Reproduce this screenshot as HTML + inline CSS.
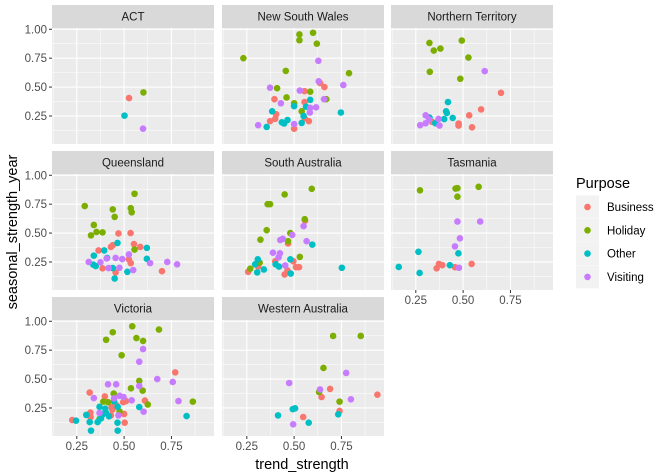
<!DOCTYPE html>
<html><head><meta charset="utf-8"><style>
body{margin:0;background:#fff;}
svg{display:block;font-family:"Liberation Sans",sans-serif;}
</style></head><body>
<svg id="chart" width="662" height="475" xmlns="http://www.w3.org/2000/svg"></svg>
<script>
const facets=["ACT","New South Wales","Northern Territory","Queensland","South Australia","Tasmania","Victoria","Western Australia"];
const purposes=["Business","Holiday","Other","Visiting"];
const colors=["#F8766D","#7CAE00","#00BFC4","#C77CFF"];
const xTicks=[0.25,0.5,0.75];
const xTickLabels=["0.25","0.50","0.75"];
const yTicks=[0.25,0.5,0.75,1.0];
const yTickLabels=["0.25","0.50","0.75","1.00"];
// [trend, seasonal] per facet per purpose
const actBusiness=[[0.526,0.405]];
const actHoliday=[[0.602,0.454]];
const actOther=[[0.502,0.253]];
const actVisiting=[[0.60,0.14]];
const nswBusiness=[[0.396,0.395],[0.405,0.265],[0.40,0.225],[0.373,0.205],[0.555,0.465],[0.637,0.535],[0.66,0.50],[0.555,0.37],[0.556,0.23],[0.578,0.205],[0.50,0.14]];
const nswHoliday=[[0.232,0.75],[0.528,0.955],[0.528,0.905],[0.60,0.97],[0.62,0.875],[0.456,0.64],[0.79,0.62],[0.41,0.49],[0.46,0.41],[0.50,0.36],[0.585,0.46],[0.67,0.395],[0.54,0.29]];
const nswOther=[[0.384,0.29],[0.585,0.39],[0.563,0.33],[0.50,0.335],[0.747,0.28],[0.55,0.25],[0.465,0.215],[0.435,0.195],[0.447,0.185],[0.54,0.19],[0.355,0.155]];
const nswVisiting=[[0.373,0.495],[0.628,0.727],[0.63,0.55],[0.53,0.47],[0.43,0.36],[0.658,0.395],[0.616,0.325],[0.585,0.32],[0.583,0.28],[0.76,0.518],[0.31,0.17],[0.50,0.18]];
const ntBusiness=[[0.70,0.45],[0.595,0.307],[0.532,0.256],[0.476,0.184],[0.476,0.167],[0.547,0.152],[0.336,0.20]];
const ntHoliday=[[0.322,0.882],[0.345,0.816],[0.38,0.833],[0.493,0.902],[0.528,0.755],[0.324,0.632],[0.485,0.572]];
const ntOther=[[0.42,0.37],[0.41,0.29],[0.414,0.276],[0.445,0.233],[0.40,0.223],[0.322,0.236],[0.353,0.188]];
const ntVisiting=[[0.614,0.638],[0.302,0.256],[0.37,0.224],[0.273,0.17],[0.302,0.187],[0.375,0.167],[0.32,0.22]];
const qldBusiness=[[0.365,0.35],[0.47,0.497],[0.534,0.50],[0.552,0.405],[0.585,0.38],[0.43,0.38],[0.44,0.395],[0.525,0.272],[0.535,0.24],[0.386,0.195],[0.455,0.16],[0.70,0.17]];
const qldHoliday=[[0.292,0.734],[0.34,0.57],[0.325,0.48],[0.354,0.51],[0.386,0.506],[0.44,0.705],[0.45,0.64],[0.535,0.715],[0.54,0.68],[0.555,0.84],[0.555,0.357]];
const qldOther=[[0.465,0.415],[0.34,0.305],[0.395,0.35],[0.62,0.372],[0.62,0.277],[0.337,0.227],[0.35,0.215],[0.44,0.197],[0.517,0.165],[0.45,0.107],[0.41,0.285]];
const qldVisiting=[[0.525,0.315],[0.313,0.25],[0.375,0.247],[0.408,0.28],[0.455,0.285],[0.49,0.275],[0.418,0.197],[0.475,0.2],[0.548,0.18],[0.637,0.24],[0.728,0.25],[0.78,0.23]];
const saBusiness=[[0.558,0.607],[0.468,0.41],[0.40,0.256],[0.465,0.177],[0.45,0.142],[0.496,0.256],[0.51,0.205],[0.526,0.205],[0.257,0.165],[0.31,0.21]];
const saHoliday=[[0.593,0.883],[0.45,0.834],[0.36,0.75],[0.373,0.75],[0.355,0.525],[0.322,0.443],[0.48,0.50],[0.468,0.43],[0.556,0.62],[0.53,0.294],[0.318,0.244],[0.268,0.192]];
const saOther=[[0.752,0.2],[0.596,0.40],[0.48,0.273],[0.308,0.273],[0.294,0.23],[0.34,0.185],[0.305,0.16],[0.402,0.23],[0.42,0.21],[0.482,0.15]];
const saVisiting=[[0.55,0.56],[0.566,0.43],[0.49,0.484],[0.44,0.45],[0.427,0.44],[0.425,0.325],[0.388,0.33],[0.418,0.29],[0.453,0.22]];
const tasBusiness=[[0.372,0.233],[0.39,0.222],[0.36,0.195],[0.457,0.205],[0.545,0.233]];
const tasHoliday=[[0.272,0.87],[0.46,0.885],[0.47,0.888],[0.582,0.90],[0.47,0.815]];
const tasOther=[[0.264,0.338],[0.475,0.325],[0.43,0.222],[0.16,0.207],[0.27,0.155]];
const tasVisiting=[[0.47,0.60],[0.59,0.60],[0.483,0.455],[0.457,0.385],[0.478,0.20]];
const vicBusiness=[[0.77,0.558],[0.61,0.314],[0.398,0.35],[0.318,0.383],[0.322,0.21],[0.323,0.172],[0.226,0.146],[0.50,0.198],[0.503,0.123],[0.51,0.31],[0.43,0.186],[0.434,0.258],[0.438,0.236],[0.46,0.273],[0.495,0.30]];
const vicHoliday=[[0.543,0.957],[0.44,0.905],[0.405,0.84],[0.565,0.855],[0.60,0.83],[0.684,0.928],[0.487,0.706],[0.58,0.484],[0.598,0.40],[0.536,0.42],[0.445,0.375],[0.863,0.305],[0.625,0.28],[0.39,0.305],[0.415,0.30],[0.37,0.155],[0.476,0.22]];
const vicOther=[[0.246,0.14],[0.30,0.19],[0.318,0.128],[0.325,0.054],[0.37,0.26],[0.378,0.16],[0.36,0.128],[0.40,0.244],[0.405,0.207],[0.387,0.195],[0.447,0.307],[0.466,0.26],[0.465,0.123],[0.466,0.054],[0.58,0.258],[0.83,0.18],[0.42,0.178]];
const vicVisiting=[[0.60,0.76],[0.58,0.65],[0.675,0.50],[0.757,0.475],[0.58,0.44],[0.415,0.455],[0.458,0.455],[0.787,0.31],[0.34,0.336],[0.476,0.355],[0.497,0.345],[0.54,0.316],[0.603,0.218],[0.47,0.186],[0.37,0.207],[0.447,0.333]];
const waBusiness=[[0.69,0.415],[0.645,0.345],[0.94,0.365],[0.74,0.224],[0.548,0.172]];
const waHoliday=[[0.706,0.873],[0.852,0.873],[0.655,0.596],[0.632,0.388],[0.74,0.305]];
const waOther=[[0.505,0.247],[0.493,0.24],[0.415,0.186],[0.733,0.195],[0.577,0.123]];
const waVisiting=[[0.775,0.553],[0.474,0.466],[0.637,0.41],[0.80,0.325],[0.495,0.109]];
const facetData=[
 [actBusiness,actHoliday,actOther,actVisiting],[nswBusiness,nswHoliday,nswOther,nswVisiting],
 [ntBusiness,ntHoliday,ntOther,ntVisiting],[qldBusiness,qldHoliday,qldOther,qldVisiting],
 [saBusiness,saHoliday,saOther,saVisiting],[tasBusiness,tasHoliday,tasOther,tasVisiting],
 [vicBusiness,vicHoliday,vicOther,vicVisiting],[waBusiness,waHoliday,waOther,waVisiting]];

const NS="http://www.w3.org/2000/svg";
const svg=document.getElementById('chart');
function mk(tag,attrs,parent){const e=document.createElementNS(NS,tag);for(const k in attrs)e.setAttribute(k,attrs[k]);(parent||svg).appendChild(e);return e;}
const colLeft=[52,222,391], rowTop=[28,174,320], PW=162, PH=116, XMIN=0.119, XS=189.3, YMAX=1.011, YS=115.6;
function sx(c,v){return colLeft[c]+(v-XMIN)*XS;}
function sy(r,v){return rowTop[r]+(YMAX-v)*YS;}
const minor=[0.125,0.375,0.625,0.875];
facets.forEach((name,i)=>{
  const c=i%3,r=Math.floor(i/3),L=colLeft[c],T=rowTop[r];
  const g=mk('g',{});
  
  
  mk('rect',{x:L,y:T,width:PW,height:PH,fill:'#EBEBEB'},g);
  minor.forEach(v=>{const x=sx(c,v);if(x>L&&x<L+PW)mk('line',{x1:x,x2:x,y1:T,y2:T+PH,stroke:'#fff','stroke-width':0.5},g);
    const y=sy(r,v);if(y>T&&y<T+PH)mk('line',{x1:L,x2:L+PW,y1:y,y2:y,stroke:'#fff','stroke-width':0.5},g);});
  xTicks.forEach(v=>{const x=sx(c,v);mk('line',{x1:x,x2:x,y1:T,y2:T+PH,stroke:'#fff','stroke-width':1.1},g);});
  yTicks.forEach(v=>{const y=sy(r,v);mk('line',{x1:L,x2:L+PW,y1:y,y2:y,stroke:'#fff','stroke-width':1.1},g);});
  const st=mk('rect',{x:L,y:T-23,width:PW,height:23,fill:'#D9D9D9'},g);
  
  
  const tt=mk('text',{x:L+PW/2,y:T-7.5,'text-anchor':'middle','font-size':11.5,fill:'#1A1A1A'},g);tt.textContent=name;
  
  
  facetData[i].forEach((series,p)=>{series.forEach(d=>{
    const pt=mk('circle',{cx:sx(c,d[0]),cy:sy(r,d[1]),r:3.3,fill:colors[p]},g);
    
    
  });});
  if(c===0){yTicks.forEach((v,k)=>{const y=sy(r,v);mk('line',{x1:L-3,x2:L,y1:y,y2:y,stroke:'#333','stroke-width':1},g);
    const t=mk('text',{x:L-5,y:y+4,'text-anchor':'end','font-size':11.5,fill:'#4D4D4D'},g);t.textContent=yTickLabels[k];
    
    });}
  if(r===2||i===5){xTicks.forEach((v,k)=>{const x=sx(c,v);mk('line',{x1:x,x2:x,y1:T+PH,y2:T+PH+3,stroke:'#333','stroke-width':1},g);
    const t=mk('text',{x:x,y:T+PH+14,'text-anchor':'middle','font-size':11.5,fill:'#4D4D4D'},g);t.textContent=xTickLabels[k];
    
    });}
});
const xt=mk('text',{x:302,y:469,'text-anchor':'middle','font-size':14.5,fill:'#000'});xt.textContent='trend_strength';


const yt=mk('text',{x:0,y:0,'text-anchor':'middle','font-size':14.5,fill:'#000',transform:'translate(17,232) rotate(-90)'});yt.textContent='seasonal_strength_year';


const lg=mk('g',{});


const lt=mk('text',{x:576,y:188,'font-size':14.5,fill:'#000'},lg);lt.textContent='Purpose';


purposes.forEach((p,k)=>{const y=207+k*23.3;
  const e=mk('g',{},lg);
  
  
  mk('rect',{x:576,y:y-11.5,width:23,height:23,fill:'#F2F2F2'},e);
  mk('circle',{cx:587.5,cy:y,r:3.3,fill:colors[k]},e);
  const t=mk('text',{x:607,y:y+4,'font-size':11.5,fill:'#000'},e);t.textContent=p;});
</script>
</body></html>
